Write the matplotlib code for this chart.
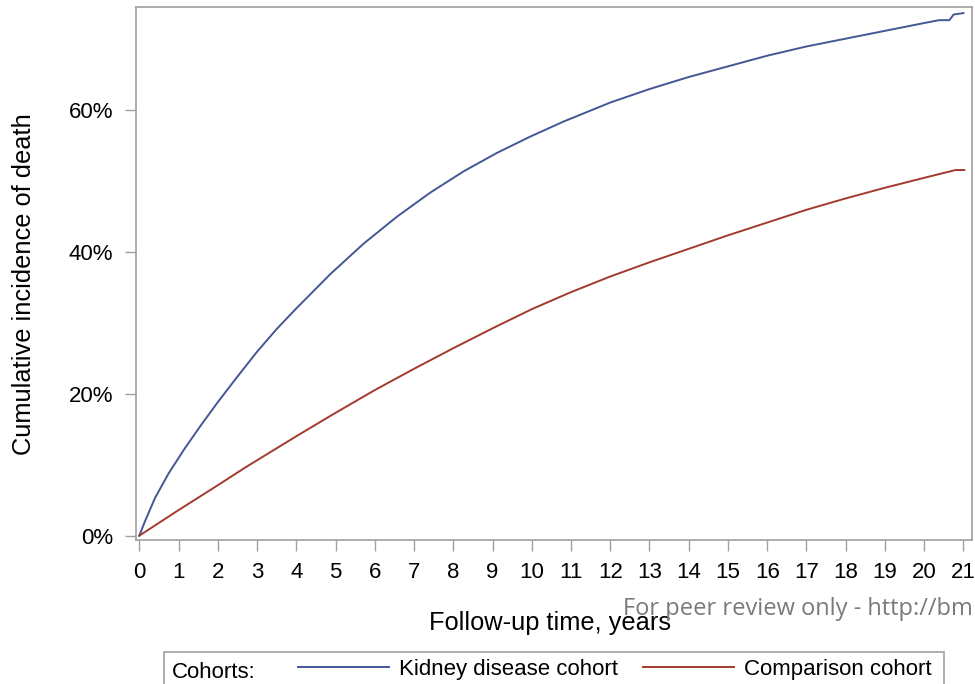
import matplotlib
matplotlib.use("Agg")
import matplotlib.pyplot as plt
from matplotlib.patches import Rectangle
from matplotlib.ticker import FuncFormatter

plt.rcParams['font.family'] = ['Liberation Sans', 'DejaVu Sans']

# cumulative incidence (years, percent)
years_kidney = [0, 0.15, 0.4, 0.75, 1.16, 1.59, 2.0, 2.5, 3, 3.5, 4, 4.86, 5.71,
                6.56, 7.41, 8.26, 9.11, 9.96, 10.8, 12, 13, 14, 15, 16, 17, 18,
                19, 20, 20.38, 20.64, 20.75, 21.0]
kidney = [0, 2.1, 5.3, 8.8, 12.3, 15.7, 18.8, 22.4, 25.9, 29.1, 32.0, 36.8, 41.1,
          44.9, 48.3, 51.3, 53.9, 56.2, 58.3, 61.0, 62.9, 64.6, 66.1, 67.6, 68.9,
          70.0, 71.1, 72.2, 72.6, 72.6, 73.4, 73.6]

years_comp = [0, 0.5, 1, 2, 2.7, 4, 5, 6, 7, 8, 9, 10, 11, 12, 13, 14, 15, 16, 17,
              18, 19, 20, 20.8, 21.02]
comparison = [0, 1.8, 3.6, 7.1, 9.6, 14.0, 17.3, 20.5, 23.5, 26.4, 29.2, 31.9, 34.3,
              36.5, 38.5, 40.4, 42.3, 44.1, 45.9, 47.5, 49.0, 50.4, 51.5, 51.5]

x_ticks = list(range(0, 22))
y_ticks = [0, 20, 40, 60]

blue = '#445694'
red = '#A23A2E'
grey = '#A0A0A0'

W, H = 975, 684
fig = plt.figure(figsize=(9.75, 6.84), dpi=100)
ax = fig.add_axes([136 / W, 1 - 539.5 / H, (971.7 - 136) / W, (539.5 - 6.7) / H])

l1, = ax.plot(years_kidney, kidney, color=blue, lw=1.4)
l2, = ax.plot(years_comp, comparison, color=red, lw=1.4)

ax.set_xlim(-0.084, 21.21)
ax.set_ylim(-0.54, 74.5)
ax.set_xticks(x_ticks)
ax.set_yticks(y_ticks)
ax.yaxis.set_major_formatter(FuncFormatter(lambda v, p: f"{v:.0f}%"))

for s in ax.spines.values():
    s.set_color(grey)
    s.set_linewidth(1.2)
ax.tick_params(axis='both', direction='out', length=8, width=1, color=grey,
               labelsize=16, labelcolor='black')
ax.tick_params(axis='x', pad=8)
ax.tick_params(axis='y', pad=8.5)

# axis titles
fig.text(24.4 / W, 1 - 284 / H, "Cumulative incidence of death", rotation=90,
         ha='center', va='center', fontsize=18.3)
fig.text(550 / W, 1 - 630 / H, "Follow-up time, years", ha='center',
         va='baseline', fontsize=18.3)

# watermark from the source pdf
fig.text(623 / W, 1 - 615 / H, "For peer review only - http://bm", ha='left',
         va='baseline', fontsize=17, color='#7a7a7a', family='Open Sans', zorder=5)

# legend box at the bottom
fig.patches.append(Rectangle((164 / W, -0.05), (944.3 - 164) / W, 0.05 + 1 - 652.3 / H,
                             transform=fig.transFigure, fill=False, ec=grey, lw=1.2))
fig.text(171.7 / W, 1 - 678 / H, "Cohorts:", ha='left', va='baseline', fontsize=16)
fig.legend([l1, l2], ["Kidney disease cohort", "Comparison cohort"],
           loc='center left', bbox_to_anchor=(297.7 / W, 1 - 669 / H), ncol=2,
           frameon=False, fontsize=16, handlelength=4.1, handletextpad=0.45,
           columnspacing=1.15, borderpad=0, borderaxespad=0)

fig.savefig('out.png', dpi=100)
